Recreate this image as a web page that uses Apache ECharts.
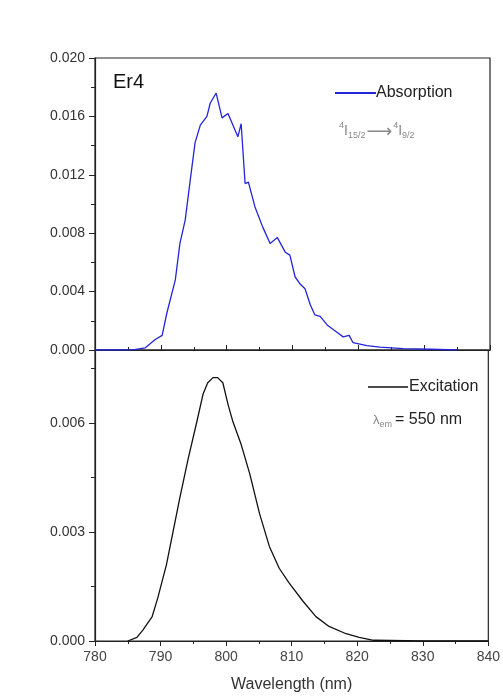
<!DOCTYPE html>
<html><head><meta charset="utf-8">
<script src="https://cdn.jsdelivr.net/npm/echarts@6/dist/echarts.min.js"></script>
<style>html,body{margin:0;padding:0;background:#fff}#c{width:503px;height:697px}</style>
</head><body><div id="c"></div>
<script>
var xTicks = [780, 790, 800, 810, 820, 830, 840];
var absWl = [780, 784, 786, 787.6, 789.1, 790.2, 790.9, 792.2, 792.9, 793.7, 794.4, 795.2, 796.0, 797.0, 797.5, 798.4, 799.3, 800.2, 800.5, 801.7, 802.2, 802.8, 803.3, 804.3, 805.5, 806.6, 807.7, 808.9, 809.6, 810.4, 811.2, 811.9, 812.7, 813.4, 814.2, 815.3, 816.8, 817.7, 818.6, 819.2, 821.3, 823.3, 826.8, 830.9, 835];
var absVal = [0, 0, 0.00002, 0.00014, 0.0007, 0.001, 0.0025, 0.0048, 0.0073, 0.0089, 0.0114, 0.0142, 0.0154, 0.0160, 0.0169, 0.0176, 0.0159, 0.0162, 0.0163, 0.0146, 0.0155, 0.0114, 0.0115, 0.0098, 0.0084, 0.0073, 0.0077, 0.0067, 0.0065, 0.0050, 0.0045, 0.0042, 0.0031, 0.0024, 0.0023, 0.0017, 0.0012, 0.0009, 0.0010, 0.0005, 0.0003, 0.0002, 0.0001, 0.00005, 0];
var excWl = [785.0, 786.4, 787.3, 788.7, 789.6, 790.9, 791.9, 792.9, 794.2, 795.5, 796.5, 797.2, 798.0, 798.7, 799.5, 800.3, 801.0, 802.3, 803.6, 805.1, 806.6, 808.1, 809.6, 811.7, 813.7, 815.7, 818.3, 820.3, 822.5, 830, 840];
var excVal = [0, 0.0001, 0.0003, 0.00066, 0.0012, 0.0021, 0.0030, 0.0039, 0.0050, 0.0060, 0.0068, 0.0071, 0.00724, 0.00724, 0.0071, 0.0065, 0.00605, 0.0054, 0.0046, 0.0035, 0.0026, 0.0020, 0.0016, 0.0011, 0.00067, 0.0004, 0.0002, 0.0001, 0.00002, 0, 0];
var topTicks = [0, 0.004, 0.008, 0.012, 0.016, 0.020];
var botTicks = [0, 0.003, 0.006];

function pairs(xs, ys){ return xs.map(function(x,i){return [x, ys[i]];}); }
var font = 'Liberation Sans, Arial, sans-serif';

var chart = echarts.init(document.getElementById('c'));
function xAxis(gi, show){
  return {type:'value', gridIndex:gi, min:xTicks[0], max:xTicks[xTicks.length-1], interval:10,
    axisLine:{show:true, onZero:false, lineStyle:{color:'#222', width:1.2}},
    axisTick:{show:true, inside:!show, length:5, lineStyle:{color:'#222'}},
    minorTick:{show:true, splitNumber:2, length:3, lineStyle:{color:'#222'}},
    axisLabel:{show:show, color:'#444', fontSize:14, fontFamily:font, margin:9},
    splitLine:{show:false},
    name: show ? 'Wavelength (nm)' : '', nameLocation:'middle', nameGap:36,
    nameTextStyle:{color:'#333', fontSize:16, fontFamily:font}};
}
function yAxis(gi, ticks, max){
  return {type:'value', gridIndex:gi, min:0, max:max, interval:ticks[1]-ticks[0],
    axisLine:{show:true, lineStyle:{color:'#222', width:1.2}},
    axisTick:{show:true, length:6, lineStyle:{color:'#222'}},
    minorTick:{show:true, splitNumber:2, length:4, lineStyle:{color:'#222'}},
    axisLabel:{showMaxLabel: gi===0, color:'#333', fontSize:14, fontFamily:font, margin:10,
      formatter:function(v){return v.toFixed(3);}},
    splitLine:{show:false}};
}
chart.setOption({
  animation:false,
  grid:[
    {left:95, top:58, width:395, height:292, show:true, borderColor:'#222', borderWidth:1.2, backgroundColor:'transparent'},
    {left:95, top:350, width:395, height:291, show:true, borderColor:'#222', borderWidth:1.2, backgroundColor:'transparent'}
  ],
  xAxis:[xAxis(0,false), xAxis(1,true)],
  yAxis:[yAxis(0,topTicks,0.020), yAxis(1,botTicks,0.008)],
  legend:[
    {data:['Absorption'], left:330, top:80, itemWidth:41, itemHeight:2, itemGap:2, icon:'rect',
     textStyle:{color:'#222', fontSize:16, fontFamily:font, padding:[0,0,0,-5]}},
    {data:['Excitation'], left:363, top:374, itemWidth:40, itemHeight:1.5, icon:'rect',
     textStyle:{color:'#222', fontSize:16, fontFamily:font, padding:[0,0,0,-4]}}
  ],
  series:[
    {name:'Absorption', type:'line', xAxisIndex:0, yAxisIndex:0, data:pairs(absWl, absVal),
     showSymbol:false, symbol:'none', lineStyle:{color:'#2424d8', width:1.3}, itemStyle:{color:'#2424d8'}},
    {name:'Excitation', type:'line', xAxisIndex:1, yAxisIndex:1, data:pairs(excWl, excVal),
     showSymbol:false, symbol:'none', lineStyle:{color:'#111', width:1.3}, itemStyle:{color:'#111'}}
  ],
  graphic:[
    {type:'text', left:113, top:72, style:{text:'Er4', fontSize:20, fontFamily:font, fill:'#111'}},
    {type:'text', left:339, top:121, style:{
      text:'{sup|4}{m|I}{sub|15/2}{a|⟶}{sup|4}{m|I}{sub|9/2}',
      rich:{
        m:{fontSize:14, fill:'#888', fontFamily:font},
        a:{fontSize:18, fill:'#888', fontFamily:'DejaVu Sans', padding:[2,1,0,1]},
        sup:{fontSize:9, fill:'#888', verticalAlign:'top', padding:[0,0,10,0], fontFamily:font},
        sub:{fontSize:9, fill:'#888', padding:[10,0,0,0], fontFamily:font}
      }}},
    {type:'text', left:373, top:412, style:{
      text:'{m|λ}{sub|em}{b|= 550 nm}',
      rich:{
        m:{fontSize:13, fill:'#888', fontFamily:font},
        sub:{fontSize:9, fill:'#888', padding:[10,0,0,0], fontFamily:font},
        b:{fontSize:16, fill:'#222', fontFamily:font, padding:[0,0,0,3]}
      }}}
  ]
});
</script></body></html>
